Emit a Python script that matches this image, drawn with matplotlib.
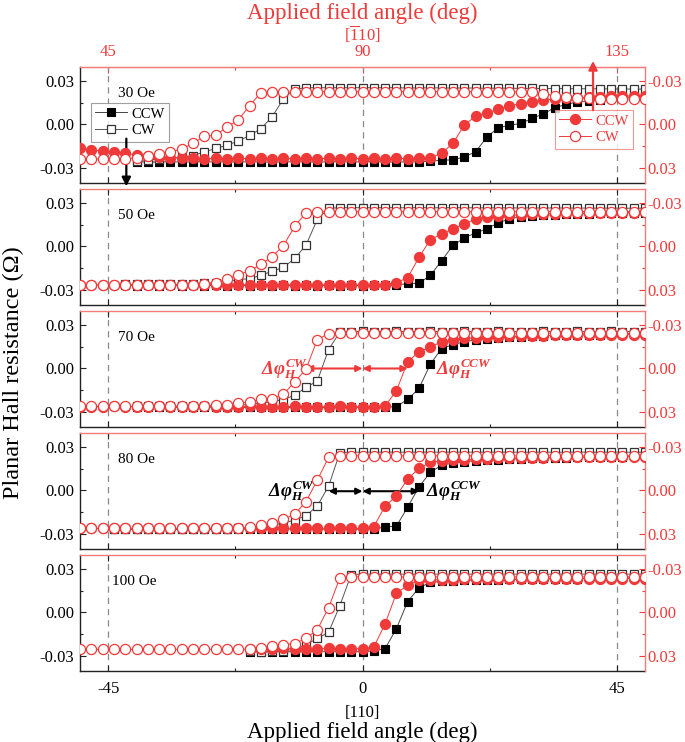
import numpy as np
import matplotlib
matplotlib.use('Agg')
import matplotlib.pyplot as plt
from matplotlib.ticker import FixedLocator

plt.rcParams['font.family'] = ['Liberation Serif', 'DejaVu Serif']
plt.rcParams['mathtext.fontset'] = 'custom'
# math is only used for the bold italic delta-phi labels and the [1-10] bar
plt.rcParams['mathtext.it'] = 'Liberation Serif:italic:bold'
plt.rcParams['mathtext.rm'] = 'Liberation Serif:italic:bold'
plt.rcParams['mathtext.bf'] = 'Liberation Serif:italic:bold'
plt.rcParams['mathtext.sf'] = 'Liberation Serif'
plt.rcParams['axes.unicode_minus'] = False

nan = np.nan

# applied field angle from [110] (deg), bottom axis
angle = [-50, -48, -46, -44, -42, -40, -38, -36, -34, -32,
         -30, -28, -26, -24, -22, -20, -18, -16, -14, -12,
         -10, -8, -6, -4, -2, 0, 2, 4, 6, 8,
         10, 12, 14, 16, 18, 20, 22, 24, 26, 28,
         30, 32, 34, 36, 38, 40, 42, 44, 46, 48,
         50]

fields = ['30 Oe', '50 Oe', '70 Oe', '80 Oe', '100 Oe']

# ---- black squares, left axis (Ohm) ----
b_ccw_30 = [nan, nan, nan, nan, nan, -.0258, -.0260, -.0259, -.0258, -.0260,
            -.0259, -.0258, -.0260, -.0259, -.0260, -.0258, -.0259, -.0260, -.0259, -.0258,
            -.0259, -.0260, -.0259, -.0258, -.0260, -.0259, -.0258, -.0259, -.0260, -.0259,
            -.0258, -.0255, -.0247, -.0245, -.0224, -.0190, -.0088, -.0023, -.0005, .0007,
            .0042, .0074, .0115, .0140, .0155, .0160, .0173, .0180, .0187, .0190,
            .0196]
b_cw_30 = [nan, nan, nan, nan, nan, -.0250, -.0245, -.0240, -.0235, -.0225,
           -.0215, -.0190, -.0166, -.0143, -.0115, -.0076, -.0030, .0053, .0178, .0245,
           .0254, .0255, .0254, .0255, .0254, .0255, .0254, .0255, .0254, .0253,
           .0253, .0254, .0253, .0252, .0253, .0252, .0251, .0252, .0251, .0250,
           .0250, .0249, .0249, .0248, .0248, .0247, .0247, .0246, .0246, .0245,
           .0245]
b_ccw_50 = [nan, nan, nan, nan, -.0270, -.0271, -.0270, -.0272, -.0270, -.0271,
            -.0270, -.0271, -.0270, -.0272, -.0270, -.0271, -.0270, -.0271, -.0270, -.0272,
            -.0270, -.0271, -.0270, -.0271, -.0270, -.0271, -.0270, -.0270, -.0268, -.0256,
            -.0255, -.0200, -.0099, .0007, .0059, .0094, .0122, .0164, .0190, .0206,
            .0212, .0216, .0220, .0223, .0225, .0227, .0229, .0231, .0232, .0234,
            .0235]
b_cw_50 = [nan, nan, nan, nan, -.0262, -.0263, -.0262, -.0261, -.0262, -.0262,
           -.0260, -.0255, -.0250, -.0240, -.0230, -.0222, -.0200, -.0171, -.0145, -.0083,
           .0009, .0188, .0265, .0268, .0269, .0268, .0268, .0269, .0268, .0268,
           .0269, .0268, .0268, .0269, .0268, .0268, .0267, .0268, .0267, .0267,
           .0267, .0266, .0267, .0266, .0266, .0266, .0265, .0266, .0265, .0265,
           .0265]
b_ccw_70 = [nan, nan, nan, nan, nan, -.0269, -.0270, -.0269, -.0268, -.0269,
            -.0270, -.0269, -.0268, -.0269, -.0270, -.0269, -.0268, -.0269, -.0270, -.0269,
            -.0268, -.0269, -.0270, -.0269, -.0268, -.0269, -.0270, -.0268, -.0264, -.0214,
            -.0138, .0030, .0138, .0165, .0185, .0198, .0206, .0212, .0217, .0221,
            .0224, .0227, .0229, .0231, .0233, .0234, .0235, .0236, .0237, .0238,
            .0238]
b_cw_70 = [nan, nan, nan, nan, nan, -.0262, -.0263, -.0262, -.0261, -.0262,
           -.0262, -.0261, -.0262, -.0260, -.0255, -.0248, -.0240, -.0230, -.0215, -.0185,
           -.0130, -.0087, .0131, .0253, .0256, .0257, .0256, .0256, .0257, .0256,
           .0256, .0257, .0256, .0256, .0257, .0256, .0256, .0257, .0256, .0256,
           .0256, .0257, .0256, .0256, .0257, .0256, .0256, .0257, .0256, .0256,
           .0256]
b_ccw_80 = [nan, nan, nan, -.0268, -.0269, -.0268, -.0267, -.0268, -.0269, -.0268,
            -.0267, -.0268, -.0269, -.0268, -.0267, -.0268, -.0269, -.0268, -.0267, -.0268,
            -.0269, -.0268, -.0267, -.0268, -.0269, -.0268, -.0267, -.0252, -.0247, -.0115,
            .0026, .0125, .0176, .0190, .0200, .0206, .0210, .0214, .0217, .0220,
            .0222, .0224, .0226, .0228, .0230, .0231, .0233, .0234, .0235, .0236,
            .0237]
b_cw_80 = [nan, nan, nan, -.0265, -.0266, -.0265, -.0264, -.0265, -.0266, -.0265,
           -.0264, -.0265, -.0266, -.0264, -.0263, -.0262, -.0255, -.0240, -.0225, -.0205,
           -.0174, -.0107, .0030, .0263, .0266, .0265, .0266, .0265, .0266, .0265,
           .0266, .0265, .0266, .0265, .0266, .0265, .0266, .0265, .0266, .0265,
           .0265, .0266, .0265, .0265, .0266, .0265, .0265, .0266, .0265, .0265,
           .0265]
b_ccw_100 = [nan, nan, nan, nan, nan, nan, nan, nan, nan, nan,
             nan, nan, nan, nan, nan, -.0272, -.0273, -.0272, -.0271, -.0272,
             -.0273, -.0272, -.0271, -.0272, -.0273, -.0271, -.0265, -.0250, -.0112, .0076,
             .0172, .0208, .0215, .0220, .0223, .0225, .0227, .0228, .0229, .0230,
             .0231, .0232, .0233, .0234, .0235, .0236, .0237, .0238, .0239, .0239,
             .0240]
b_cw_100 = [nan, nan, nan, nan, nan, nan, nan, nan, nan, nan,
            nan, nan, nan, nan, nan, -.0270, -.0271, -.0270, -.0265, -.0255,
            -.0222, -.0180, -.0137, .0048, .0263, .0266, .0265, .0266, .0265, .0266,
            .0265, .0266, .0265, .0266, .0265, .0266, .0265, .0266, .0265, .0266,
            .0265, .0266, .0265, .0266, .0265, .0266, .0265, .0266, .0265, .0266,
            .0265]

# ---- red circles, right axis (Ohm, inverted axis) ----
r_ccw_30 = [.0165, .0175, .0185, .0190, .0200, .0210, .0220, .0225, .0230, .0233,
            .0235, .0236, .0235, .0236, .0235, .0236, .0235, .0236, .0235, .0236,
            .0235, .0236, .0235, .0236, .0235, .0236, .0235, .0236, .0235, .0236,
            .0235, .0230, .0200, .0130, .0005, -.0058, -.0080, -.0104, -.0130, -.0143,
            -.0157, -.0168, -.0178, -.0182, -.0186, -.0190, -.0192, -.0195, -.0197, -.0198,
            -.0200]
r_cw_30 = [.0238, .0238, .0239, .0238, .0237, .0230, .0220, .0203, .0190, .0170,
           .0130, .0080, .0076, .0016, -.0030, -.0130, -.0219, -.0224, -.0224, -.0226,
           -.0227, -.0228, -.0227, -.0228, -.0227, -.0228, -.0227, -.0228, -.0227, -.0228,
           -.0227, -.0228, -.0227, -.0228, -.0227, -.0228, -.0227, -.0226, -.0226, -.0225,
           -.0222, -.0212, -.0200, -.0190, -.0183, -.0180, -.0178, -.0178, -.0177, -.0177,
           -.0176]
r_ccw_50 = [.0265, .0266, .0265, .0264, .0265, .0266, .0265, .0264, .0265, .0266,
            .0265, .0264, .0265, .0266, .0265, .0264, .0265, .0266, .0265, .0264,
            .0265, .0266, .0265, .0264, .0265, .0266, .0265, .0264, .0250, .0216,
            .0075, -.0047, -.0087, -.0122, -.0157, -.0188, -.0206, -.0212, -.0216, -.0220,
            -.0223, -.0226, -.0228, -.0230, -.0231, -.0232, -.0233, -.0234, -.0235, -.0235,
            -.0236]
r_cw_50 = [.0266, .0265, .0266, .0265, .0266, .0265, .0266, .0265, .0266, .0265,
           .0265, .0262, .0250, .0227, .0195, .0169, .0124, .0070, -.0005, -.0140,
           -.0234, -.0240, -.0241, -.0241, -.0242, -.0241, -.0241, -.0242, -.0241, -.0241,
           -.0242, -.0241, -.0241, -.0242, -.0241, -.0241, -.0242, -.0241, -.0241, -.0242,
           -.0241, -.0241, -.0242, -.0241, -.0241, -.0242, -.0241, -.0241, -.0242, -.0241,
           -.0241]
r_ccw_70 = [.0264, .0265, .0264, .0263, .0264, .0265, .0264, .0263, .0264, .0265,
            .0264, .0263, .0264, .0265, .0264, .0263, .0264, .0265, .0264, .0263,
            .0264, .0265, .0264, .0263, .0264, .0265, .0264, .0260, .0154, -.0046,
            -.0115, -.0150, -.0184, -.0200, -.0208, -.0213, -.0217, -.0220, -.0223, -.0225,
            -.0227, -.0228, -.0229, -.0230, -.0231, -.0232, -.0233, -.0233, -.0234, -.0234,
            -.0235]
r_cw_70 = [.0262, .0263, .0262, .0261, .0262, .0263, .0262, .0261, .0262, .0262,
           .0261, .0260, .0255, .0250, .0241, .0230, .0214, .0210, .0180, .0092,
           .0005, -.0200, -.0241, -.0245, -.0246, -.0245, -.0245, -.0246, -.0245, -.0245,
           -.0246, -.0245, -.0245, -.0244, -.0245, -.0245, -.0244, -.0245, -.0244, -.0244,
           -.0245, -.0244, -.0244, -.0243, -.0244, -.0244, -.0243, -.0244, -.0243, -.0243,
           -.0243]
r_ccw_80 = [.0262, .0263, .0262, .0261, .0262, .0263, .0262, .0261, .0262, .0263,
            .0262, .0261, .0262, .0263, .0262, .0261, .0262, .0263, .0262, .0261,
            .0262, .0263, .0262, .0261, .0262, .0263, .0250, .0107, .0038, -.0080,
            -.0153, -.0194, -.0205, -.0210, -.0214, -.0217, -.0220, -.0222, -.0224, -.0226,
            -.0227, -.0228, -.0229, -.0230, -.0231, -.0232, -.0233, -.0233, -.0234, -.0234,
            -.0235]
r_cw_80 = [.0262, .0263, .0262, .0261, .0262, .0263, .0262, .0261, .0262, .0263,
           .0262, .0261, .0262, .0261, .0260, .0255, .0240, .0226, .0200, .0164,
           .0077, -.0072, -.0229, -.0238, -.0240, -.0241, -.0240, -.0240, -.0241, -.0240,
           -.0240, -.0241, -.0240, -.0240, -.0241, -.0240, -.0240, -.0241, -.0240, -.0240,
           -.0241, -.0240, -.0240, -.0241, -.0240, -.0240, -.0241, -.0240, -.0240, -.0241,
           -.0240]
r_ccw_100 = [nan, nan, nan, nan, nan, nan, nan, nan, nan, nan,
             nan, nan, nan, nan, nan, .0250, .0251, .0250, .0249, .0250,
             .0251, .0250, .0249, .0250, .0251, .0250, .0240, .0078, -.0133, -.0190,
             -.0224, -.0226, -.0227, -.0228, -.0229, -.0230, -.0230, -.0231, -.0231, -.0232,
             -.0232, -.0233, -.0233, -.0233, -.0234, -.0234, -.0234, -.0235, -.0235, -.0235,
             -.0235]
r_cw_100 = [.0255, .0256, .0255, .0254, .0255, .0256, .0255, .0254, .0255, .0256,
            .0255, .0254, .0255, .0256, .0255, .0254, .0245, .0234, .0222, .0215,
            .0180, .0119, -.0034, -.0240, -.0247, -.0247, -.0246, -.0247, -.0247, -.0246,
            -.0247, -.0247, -.0246, -.0247, -.0247, -.0246, -.0247, -.0247, -.0246, -.0247,
            -.0247, -.0246, -.0247, -.0247, -.0246, -.0247, -.0247, -.0246, -.0247, -.0247,
            -.0246]

black_ccw = [b_ccw_30, b_ccw_50, b_ccw_70, b_ccw_80, b_ccw_100]
black_cw = [b_cw_30, b_cw_50, b_cw_70, b_cw_80, b_cw_100]
red_ccw = [r_ccw_30, r_ccw_50, r_ccw_70, r_ccw_80, r_ccw_100]
red_cw = [r_cw_30, r_cw_50, r_cw_70, r_cw_80, r_cw_100]

RED = '#F03A3A'
RED_SPINE = '#F27C7C'
DARK = '#222222'

W, H = 685, 742
fig = plt.figure(figsize=(W / 100, H / 100), dpi=100)

axes = []
for k in range(5):
    top = 67 + 122 * k
    ax = fig.add_axes([80 / W, 1 - (top + 116) / H, 565 / W, 116 / H])
    ax2 = ax.twinx()
    axes.append((ax, ax2))

    for xv in [-45, 0, 45]:
        ax.axvline(xv, color='#8a8a8a', ls=(0, (5, 4)), lw=0.9, zorder=0.5)

    ax.plot(angle, black_ccw[k], '-s', color='#444444', lw=0.7, ms=5.8,
            mfc='black', mec='black', mew=0.8, label='CCW', zorder=3)
    ax.plot(angle, black_cw[k], '-s', color='#555555', lw=0.7, ms=5.8,
            mfc='white', mec='#333333', mew=0.9, label='CW', zorder=4)
    ax2.plot(angle, red_ccw[k], '-o', color=RED, lw=0.7, ms=7.3,
             mfc=RED, mec=RED, mew=0.8, label='CCW', zorder=3)
    ax2.plot(angle, red_cw[k], '-o', color=RED, lw=0.7, ms=7.3,
             mfc='white', mec=RED, mew=0.9, label='CW', zorder=4)

    ax.set_xlim(-50, 50)
    ax.set_ylim(-0.0405, 0.0398)
    ax2.set_ylim(0.0405, -0.0398)

    ax.set_xticks([-45, 0, 45])
    ax.xaxis.set_minor_locator(FixedLocator([-22.5, 22.5]))
    ax.set_yticks([-0.03, 0.0, 0.03])
    ax.set_yticklabels(['-0.03', '0.00', '0.03'])
    ax.yaxis.set_minor_locator(FixedLocator([-0.015, 0.015]))
    ax2.set_yticks([-0.03, 0.0, 0.03])
    ax2.set_yticklabels(['-0.03', '0.00', '0.03'])
    ax2.yaxis.set_minor_locator(FixedLocator([-0.015, 0.015]))

    ax.tick_params(which='both', direction='in', top=(k > 0), bottom=True,
                   left=True, right=False, color=DARK, labelsize=12, pad=4)
    ax.tick_params(which='major', length=4, width=0.8)
    ax.tick_params(which='minor', length=2.5, width=0.8)
    ax2.tick_params(which='both', direction='in', colors=RED, labelsize=12, pad=2)
    ax2.tick_params(which='major', length=4, width=0.8)
    ax2.tick_params(which='minor', length=2.5, width=0.8)

    if k < 4:
        ax.tick_params(labelbottom=False)
    else:
        ax.set_xticklabels(['-45', '0', '45'])
        ax.tick_params(axis='x', pad=7)

    for s in ['left', 'bottom']:
        ax.spines[s].set_color(DARK)
        ax.spines[s].set_linewidth(1.0)
    ax.spines['top'].set_visible(False)
    ax.spines['right'].set_visible(False)
    ax2.spines['left'].set_visible(False)
    ax2.spines['bottom'].set_visible(False)
    for s in ['top', 'right']:
        ax2.spines[s].set_color(RED_SPINE)
        ax2.spines[s].set_linewidth(1.0)

    ax.text(-44.3 if k == 4 else -43.2, 0.0218, fields[k], fontsize=11,
            ha='left', va='center', color='black')

# top axis (angle from [1-10] side)
ax0, ax0r = axes[0]
sec = ax0.secondary_xaxis('top', functions=(lambda x: x + 90, lambda x: x - 90))
sec.set_xticks([45, 90, 135])
sec.xaxis.set_minor_locator(FixedLocator([67.5, 112.5]))
sec.tick_params(which='both', direction='in', colors=RED, labelsize=12, pad=5)
sec.tick_params(which='major', length=4, width=0.8)
sec.tick_params(which='minor', length=2.5, width=0.8)
sec.spines['top'].set_color(RED_SPINE)

# legends in the first panel
lg1 = ax0.legend(loc='upper left', bbox_to_anchor=(0.019, 0.69), fontsize=10.5,
                 frameon=True, fancybox=False, edgecolor='#888888',
                 handlelength=2.2, handletextpad=0.3, borderpad=0.3,
                 labelspacing=0.25, borderaxespad=0)
lg1.get_frame().set_linewidth(0.8)
lg1.set_zorder(10)
lg2 = ax0r.legend(loc='upper right', bbox_to_anchor=(0.979, 0.63), fontsize=10.5,
                  frameon=True, fancybox=False, edgecolor=RED_SPINE,
                  handlelength=2.2, handletextpad=0.3, borderpad=0.3,
                  labelspacing=0.25, borderaxespad=0, labelcolor=RED)
lg2.get_frame().set_linewidth(0.8)

# direction arrows in first panel
ax0.annotate('', xy=(-41.8, -0.0428), xytext=(-41.8, -0.0098),
             arrowprops=dict(arrowstyle='-|>', color='black', lw=1.6,
                             mutation_scale=13, shrinkA=0, shrinkB=0),
             annotation_clip=False, zorder=11)
ax0r.annotate('', xy=(40.8, -0.0440), xytext=(40.8, -0.0099),
              arrowprops=dict(arrowstyle='-|>', color=RED, lw=1.6,
                              mutation_scale=13, shrinkA=0, shrinkB=0),
              annotation_clip=False, zorder=11)

# delta phi annotations
ax3 = axes[2][0]
for x0, x1 in [(-10, 0), (8, 0)]:
    ax3.annotate('', xy=(x0, 0.0), xytext=(x1, 0.0),
                 arrowprops=dict(arrowstyle='<|-|>', color=RED, lw=1.5,
                                 mutation_scale=9, shrinkA=0, shrinkB=0), zorder=6)
ax3.text(-9.6, 0.0, r'$\mathit{\Delta\varphi_H^{CW}}$', color=RED, fontsize=13.5,
         ha='right', va='center', zorder=7)
ax3.text(13.0, 0.0, r'$\mathit{\Delta\varphi_H^{CCW}}$', color=RED, fontsize=13.5,
         ha='left', va='center', zorder=7)

ax4 = axes[3][0]
for x0, x1 in [(-6, 0), (10, 0)]:
    ax4.annotate('', xy=(x0, -0.0005), xytext=(x1, -0.0005),
                 arrowprops=dict(arrowstyle='<|-|>', color='black', lw=1.5,
                                 mutation_scale=9, shrinkA=0, shrinkB=0), zorder=6)
ax4.text(-8.4, 0.0, r'$\mathit{\Delta\varphi_H^{CW}}$', color='black', fontsize=13.5,
         ha='right', va='center', zorder=7)
ax4.text(11.3, 0.0, r'$\mathit{\Delta\varphi_H^{CCW}}$', color='black', fontsize=13.5,
         ha='left', va='center', zorder=7)

# axis titles
xc = 362.7 / W
fig.text(xc, 1 - 13 / H, 'Applied field angle (deg)', color=RED, fontsize=16.5,
         ha='center', va='center')
fig.text(xc, 1 - 34 / H, r'[$\overline{\mathsf{1}}$10]', color=RED, fontsize=12,
         ha='center', va='center')
fig.text(xc, 1 - 713 / H, '[110]', color='black', fontsize=12,
         ha='center', va='center')
fig.text(xc, 1 - 732 / H, 'Applied field angle (deg)', color='black', fontsize=16.5,
         ha='center', va='center')
fig.text(13 / W, 1 - 373 / H, 'Planar Hall resistance (\u03a9)', color='black',
         fontsize=17.5, rotation=90, ha='center', va='center')

fig.savefig('out.png', dpi=100)
